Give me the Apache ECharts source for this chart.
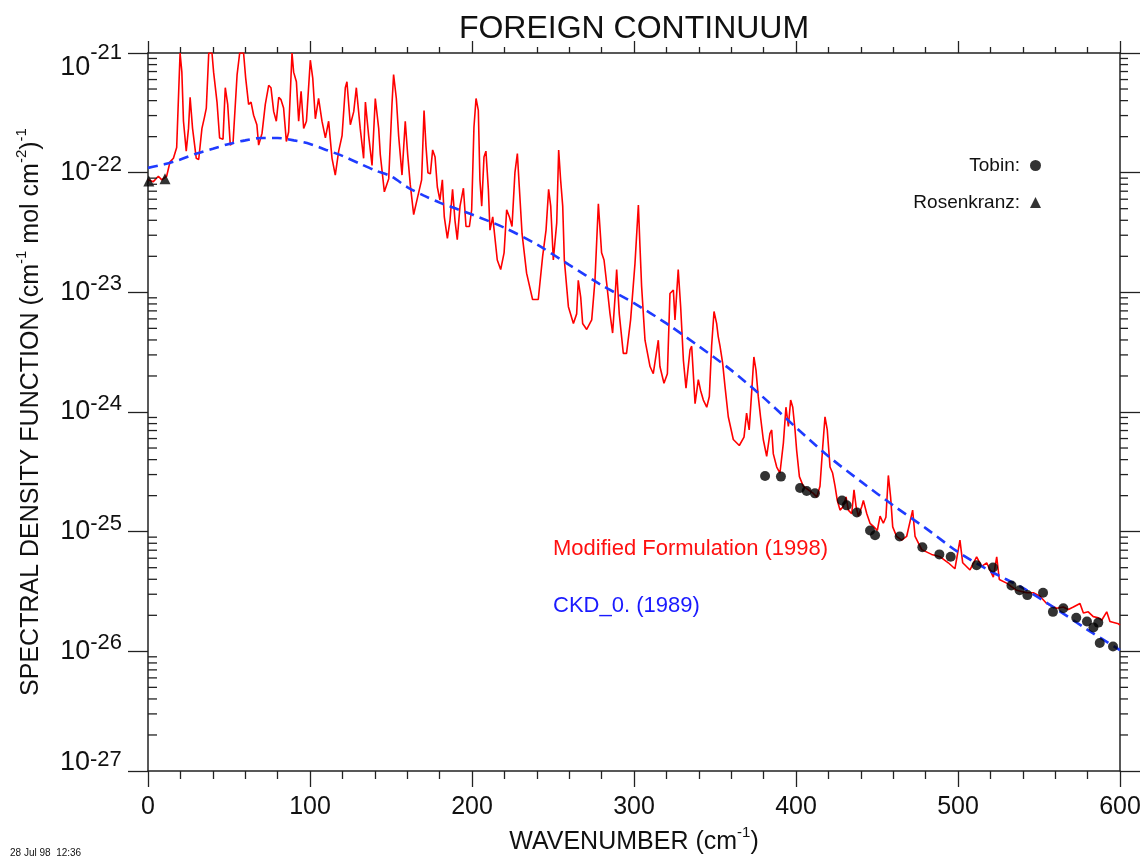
<!DOCTYPE html>
<html><head><meta charset="utf-8">
<script src="https://cdn.jsdelivr.net/npm/echarts@6/dist/echarts.min.js"></script>
<style>html,body{margin:0;padding:0;background:#fff}#c{width:1143px;height:858px}</style>
</head><body><div id="c"></div>
<script>
// the y axis is a log10 axis, so these are plotted directly and labelled 10^n.
const redWavenumber = [0,3.3,6.4,8.5,11.5,13.6,15.7,17.7,19.8,20.9,21.9,23.6,25,26,27.5,29.8,31.3,33.3,34.8,36,37.5,39.5,40.5,42.6,44.2,46.3,47.7,49.2,50.8,52.5,55,56.6,59,60.3,62.1,63.6,65.2,67.2,68.3,70.4,72.4,74.5,75.9,77.6,79.2,80.7,82.1,83.7,85.4,86.8,88.9,89.9,91.6,93,94.5,96.1,97.8,100.2,101.7,103.3,105.3,107.4,109.5,111.5,113.6,115.6,117.7,119.8,121.8,122.8,124.9,127,128.6,131,133.1,134.2,136.2,138.3,140.3,142.4,143.4,145.9,148.6,150.6,151.6,153.3,154.7,156.8,158.8,160.3,161.9,164,166.5,168.9,170.4,171.6,172.8,174.3,175.7,177.2,178.6,180.2,181.7,182.9,184.8,186.4,188,189.5,190.9,192.6,194.7,196.3,198.4,199.8,201.2,202.5,203.9,204.9,206,207.4,208.6,210.1,211.1,212.8,215.6,217.7,219.8,221.4,223.1,224.7,226.5,228,229.2,230.9,233.7,237.4,240.9,243.6,245.7,247.3,248.6,250.2,252.3,253.5,254.7,256,257,259.5,262.6,264.6,265.6,267.1,268.3,270.8,273.9,275.9,278,280,281.5,283.1,285.2,286.8,288.3,289.3,290.9,293.4,295.4,297.9,300.6,302.7,303.7,304.7,306.8,309.9,311.9,315,316,318.5,320.6,322.2,324.3,325.3,327.3,328.8,330.5,332.1,334.6,335.6,337.7,339.7,341.1,342.8,344.9,346.5,347.9,349.4,351,352,353.1,354.7,356.2,358.2,361.3,365,367.9,369.5,371.1,372.6,374,375.3,376.7,378.1,379.8,381.9,383.9,385,386,388.1,390.1,392.2,393.8,395.3,396.7,398,399.4,400.4,402.1,404.5,407.6,410.7,412.8,414.8,416.5,417.9,419.3,421,422.6,424.1,425.5,427.2,429.2,430.9,432.3,434.4,435.8,437.1,438.5,440.6,441.6,443.7,445.7,448.1,450.2,451.9,453.9,455.5,457,458.4,459.7,462.1,465.2,468.3,472,473.5,477.6,483.7,489,494,498.1,501.2,502.9,507.4,511.5,514.6,517.7,521.8,523.9,525.5,530,536.2,542.4,546.5,550.6,554.7,560.9,565,568.1,571.2,575.3,577.4,580.4,583.5,586.6,588.7,591.8,593.8,599,600];
const redExp = [-22.06,-22.075,-22.03,-22.06,-22.03,-21.91,-21.88,-21.79,-21.0,-21.16,-21.57,-21.82,-21.63,-21.37,-21.63,-21.88,-21.89,-21.63,-21.54,-21.46,-21.0,-21.0,-21.16,-21.41,-21.71,-21.72,-21.29,-21.43,-21.77,-21.75,-21.18,-21.0,-21.0,-21.21,-21.43,-21.41,-21.52,-21.60,-21.77,-21.67,-21.43,-21.27,-21.29,-21.49,-21.57,-21.37,-21.39,-21.46,-21.74,-21.66,-21.0,-21.16,-21.24,-21.57,-21.32,-21.63,-21.57,-21.06,-21.21,-21.55,-21.38,-21.57,-21.71,-21.57,-21.88,-22.02,-21.82,-21.69,-21.29,-21.24,-21.60,-21.49,-21.29,-21.63,-21.88,-21.41,-21.69,-21.94,-21.38,-21.63,-21.85,-22.16,-22.05,-21.43,-21.18,-21.38,-21.69,-22.02,-21.57,-21.85,-22.10,-22.35,-22.20,-22.06,-21.48,-21.78,-22.00,-22.01,-21.81,-21.87,-22.12,-22.23,-22.06,-22.37,-22.55,-22.40,-22.14,-22.40,-22.56,-22.28,-22.13,-22.45,-22.45,-22.31,-21.62,-21.38,-21.48,-22.06,-22.28,-21.87,-21.82,-22.14,-22.48,-22.37,-22.73,-22.81,-22.67,-22.31,-22.37,-22.45,-22.00,-21.84,-22.12,-22.51,-22.84,-23.06,-23.06,-22.70,-22.48,-22.14,-22.28,-22.73,-22.42,-21.81,-22.06,-22.28,-22.73,-23.12,-23.26,-23.18,-22.90,-23.04,-23.26,-23.31,-23.23,-22.90,-22.26,-22.67,-22.73,-22.92,-23.18,-23.34,-23.04,-22.81,-23.18,-23.51,-23.51,-23.23,-22.76,-22.27,-22.62,-22.95,-23.40,-23.62,-23.68,-23.40,-23.62,-23.76,-23.68,-23.01,-22.98,-23.23,-22.81,-23.12,-23.57,-23.80,-23.48,-23.45,-23.93,-23.73,-23.82,-23.90,-23.96,-23.87,-23.45,-23.16,-23.26,-23.37,-23.45,-23.59,-23.79,-24.04,-24.23,-24.28,-24.21,-24.01,-24.15,-23.84,-23.54,-23.65,-23.87,-24.04,-24.23,-24.37,-24.18,-24.15,-24.35,-24.46,-24.51,-24.26,-23.96,-24.12,-23.90,-23.96,-24.15,-24.32,-24.54,-24.62,-24.65,-24.68,-24.71,-24.62,-24.29,-24.04,-24.15,-24.46,-24.51,-24.62,-24.74,-24.82,-24.79,-24.71,-24.82,-24.85,-24.65,-24.79,-24.87,-24.79,-24.74,-24.85,-24.93,-24.96,-24.99,-24.87,-24.93,-24.88,-24.53,-24.71,-24.96,-25.04,-25.07,-25.04,-24.82,-25.04,-25.15,-25.19,-25.21,-25.26,-25.31,-25.07,-25.26,-25.32,-25.21,-25.29,-25.26,-25.38,-25.21,-25.40,-25.43,-25.49,-25.51,-25.51,-25.54,-25.60,-25.64,-25.63,-25.65,-25.63,-25.60,-25.68,-25.67,-25.71,-25.72,-25.74,-25.67,-25.75,-25.77,-25.78];
const ckdWavenumber = [0,10,20,30,40,50,60,70,80,90,100,110,120,130,140,150,160,170,180,190,200,220,240,260,280,300,320,340,360,380,400,420,440,460,480,500,520,540,560,580,600];
const ckdExp = [-21.96,-21.93,-21.89,-21.84,-21.80,-21.76,-21.73,-21.71,-21.71,-21.73,-21.76,-21.81,-21.86,-21.92,-21.98,-22.03,-22.12,-22.19,-22.25,-22.30,-22.35,-22.46,-22.60,-22.77,-22.94,-23.09,-23.26,-23.45,-23.65,-23.88,-24.13,-24.37,-24.58,-24.78,-24.97,-25.17,-25.33,-25.47,-25.64,-25.82,-25.99];
const tobinWavenumber = [380.9,390.7,402.5,406.6,411.7,428.4,431.3,437.6,445.7,448.8,464,478,488.5,495.5,511.5,521.6,533,538,542.8,552.5,558.6,565,573,579.6,583.6,586.6,587.5,595.7];
const tobinExp = [-24.535,-24.54,-24.635,-24.66,-24.68,-24.74,-24.78,-24.84,-24.99,-25.03,-25.04,-25.13,-25.19,-25.21,-25.28,-25.30,-25.45,-25.49,-25.53,-25.51,-25.67,-25.64,-25.72,-25.75,-25.80,-25.76,-25.93,-25.96];
const rosenWavenumber = [0.5,10.5];
const rosenExp = [-22.07,-22.05];
const minorMantissas = [2,3,4,5,6,7,8,9];
const minorDecades = [-27,-26,-25,-24,-23,-22];

const FONT = 'Liberation Sans, Arial, Helvetica, sans-serif';
const Y_MIN = -27, Y_MAX = -21;
const pairs = (xs, ys) => xs.map((x, i) => [x, ys[i]]);
const minorTicks = [];
minorDecades.forEach(d => minorMantissas.forEach(m => minorTicks.push([0, d + Math.log10(m)])));

const chart = echarts.init(document.getElementById('c'), null, {renderer: 'canvas'});
const axisLine = {show: true, onZero: false, lineStyle: {color: '#222', width: 1.5}};
const tickStyle = {color: '#222', width: 1.3};
const nameRich = {
  b: {fontFamily: FONT, fontSize: 25, color: '#111', lineHeight: 34},
  s: {fontFamily: FONT, fontSize: 15, color: '#111', lineHeight: 18, verticalAlign: 'top'}
};
const B = {fontFamily: FONT, fontSize: 27, color: '#111', lineHeight: 38};
const S = {fontFamily: FONT, fontSize: 22, color: '#111', lineHeight: 18, verticalAlign: 'top'};
chart.setOption({
  animation: false,
  backgroundColor: '#fff',
  title: {text: 'FOREIGN CONTINUUM', left: '55.47%', textAlign: 'center', top: 13, padding: 0,
    textStyle: {fontFamily: FONT, fontSize: 32, fontWeight: 'normal', color: '#111'}},
  grid: {left: 148, right: 23, top: 53, bottom: 87, containLabel: false, outerBoundsMode: 'none'},
  legend: {
    data: [{name: 'Tobin', icon: 'circle'}, {name: 'Rosenkranz', icon: 'triangle'}],
    orient: 'vertical', align: 'right', right: 97, top: 151, itemGap: 18,
    itemWidth: 11, itemHeight: 11, formatter: '{name}:', selectedMode: false,
    textStyle: {fontFamily: FONT, fontSize: 19, color: '#111', padding: [0, 5, 0, 0]}
  },
  xAxis: [{
    type: 'value', min: 0, max: 600, interval: 100, position: 'bottom',
    name: '{b|WAVENUMBER (cm}{s|-1}{b|)}', nameLocation: 'middle', nameGap: 52,
    nameTextStyle: {rich: nameRich},
    axisLine: axisLine, splitLine: {show: false},
    axisTick: {show: true, length: 16, lineStyle: tickStyle},
    minorTick: {show: true, splitNumber: 5, length: 8, lineStyle: tickStyle},
    axisLabel: {fontFamily: FONT, fontSize: 25, color: '#111', margin: 24}
  }, {
    type: 'value', min: 0, max: 600, interval: 100, position: 'top',
    axisLine: axisLine, splitLine: {show: false}, axisLabel: {show: false},
    axisTick: {show: true, length: 12, lineStyle: tickStyle},
    minorTick: {show: true, splitNumber: 5, length: 6, lineStyle: tickStyle}
  }],
  yAxis: [{
    type: 'value', min: Y_MIN, max: Y_MAX, interval: 1, position: 'left',
    name: '{b|SPECTRAL DENSITY FUNCTION (cm}{s|-1}{b| mol cm}{s|-2}{b|)}{s|-1}',
    nameLocation: 'middle', nameRotate: 90, nameGap: 100,
    nameTextStyle: {rich: nameRich},
    axisLine: axisLine, splitLine: {show: false},
    axisTick: {show: true, length: 20, lineStyle: tickStyle},
    axisLabel: {
      margin: 26,
      formatter: v => {
        const e = Math.round(v);
        if (e === Y_MAX) return '{bt|10}{st|' + e + '}';
        if (e === Y_MIN) return '{bb|10}{s|' + e + '}{pad| }';
        return '{b|10}{s|' + e + '}';
      },
      rich: {
        b: B, s: S,
        bt: Object.assign({}, B, {verticalAlign: 'bottom'}),
        st: Object.assign({}, S, {lineHeight: 56, verticalAlign: 'middle'}),
        bb: Object.assign({}, B, {verticalAlign: 'top'}),
        pad: {fontSize: 1, lineHeight: 44}
      }
    }
  }, {
    type: 'value', min: Y_MIN, max: Y_MAX, interval: 1, position: 'right',
    axisLine: axisLine, splitLine: {show: false}, axisLabel: {show: false},
    axisTick: {show: true, length: 20, lineStyle: tickStyle}
  }],
  graphic: [
    {type: 'text', left: 553, top: 538, style: {text: 'Modified Formulation (1998)', fill: '#ff1010', font: '22px ' + FONT}},
    {type: 'text', left: 553, top: 595, style: {text: 'CKD_0. (1989)', fill: '#1a1aff', font: '22px ' + FONT}},
    {type: 'text', left: 10, top: 848, style: {text: '28 Jul 98  12:36', fill: '#111', font: '10px ' + FONT}}
  ],
  series: [
    {name: 'Modified Formulation (1998)', type: 'line', data: pairs(redWavenumber, redExp),
     showSymbol: false, symbol: 'none', lineStyle: {color: '#ff0000', width: 1.6}, z: 2, clip: true},
    {name: 'CKD_0. (1989)', type: 'line', data: pairs(ckdWavenumber, ckdExp), smooth: 0.3,
     showSymbol: false, symbol: 'none', lineStyle: {color: '#1f3bff', width: 2.6, type: [10, 6]}, z: 3},
    {name: 'Tobin', type: 'scatter', data: pairs(tobinWavenumber, tobinExp), symbol: 'circle', symbolSize: 10,
     itemStyle: {color: '#000'}, z: 4},
    {name: 'Rosenkranz', type: 'scatter', data: pairs(rosenWavenumber, rosenExp), symbol: 'triangle', symbolSize: 11,
     itemStyle: {color: '#000'}, z: 4},
    {name: 'minor ticks', type: 'custom', xAxisIndex: 1, yAxisIndex: 1, data: minorTicks, silent: true, z: 10, clip: false,
     renderItem: function (params, api) {
       const cs = params.coordSys;
       const y = api.coord([0, api.value(1)])[1];
       const st = {stroke: '#222', lineWidth: 1.3};
       return {type: 'group', children: [
         {type: 'line', shape: {x1: cs.x, y1: y, x2: cs.x + 9, y2: y}, style: st},
         {type: 'line', shape: {x1: cs.x + cs.width, y1: y, x2: cs.x + cs.width + 8, y2: y}, style: st}
       ]};
     }}
  ]
});
</script></body></html>
